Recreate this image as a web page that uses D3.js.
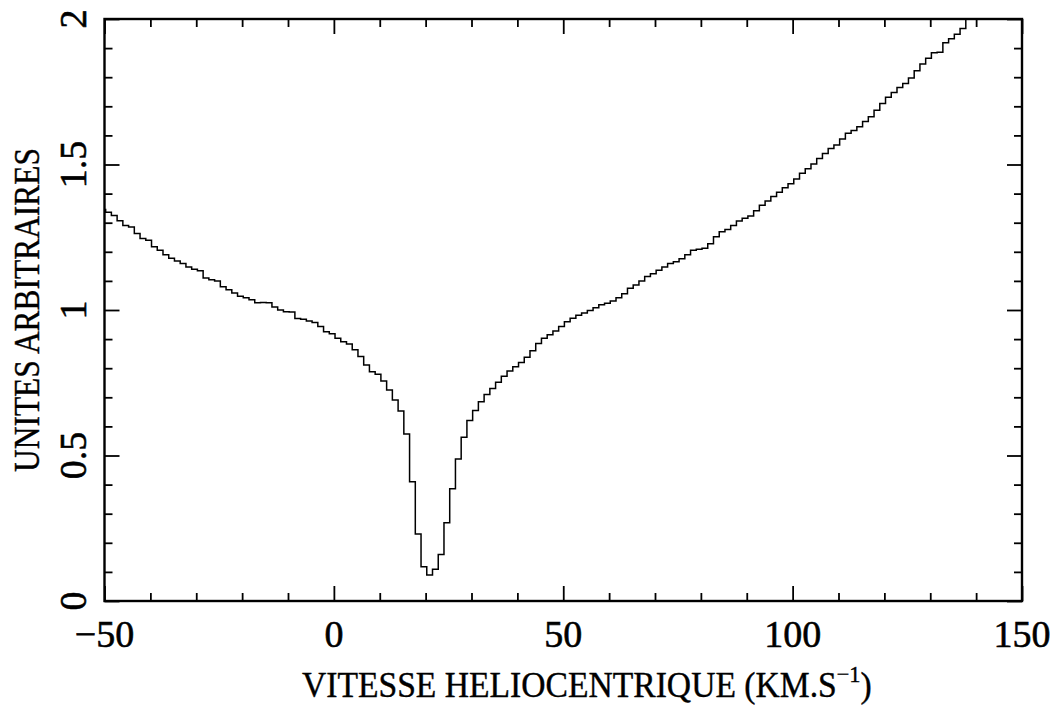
<!DOCTYPE html>
<html>
<head>
<meta charset="utf-8">
<script src="https://cdn.jsdelivr.net/npm/d3@7"></script>
<style>
  html, body { margin: 0; padding: 0; background: #fff; }
  svg { display: block; }
</style>
</head>
<body>
<svg id="chart" width="1051" height="705"></svg>
<script>
// ---- data ----
const binEdges = [-51, -49.75, -48.5, -47.25, -46, -44.75, -43.5, -42.25, -41, -39.75, -38.5, -37.25, -36, -34.75, -33.5, -32.25, -31, -29.75, -28.5, -27.25, -26, -24.75, -23.5, -22.25, -21, -19.75, -18.5, -17.25, -16, -14.75, -13.5, -12.25, -11, -9.75, -8.5, -7.25, -6, -4.75, -3.5, -2.25, -1, 0.25, 1.5, 2.75, 4, 5.25, 6.5, 7.75, 9, 10.25, 11.5, 12.75, 14, 15.25, 16.5, 17.75, 19, 20.25, 21.5, 22.75, 24, 25.25, 26.5, 27.75, 29, 30.25, 31.5, 32.75, 34, 35.25, 36.5, 37.75, 39, 40.25, 41.5, 42.75, 44, 45.25, 46.5, 47.75, 49, 50.25, 51.5, 52.75, 54, 55.25, 56.5, 57.75, 59, 60.25, 61.5, 62.75, 64, 65.25, 66.5, 67.75, 69, 70.25, 71.5, 72.75, 74, 75.25, 76.5, 77.75, 79, 80.25, 81.5, 82.75, 84, 85.25, 86.5, 87.75, 89, 90.25, 91.5, 92.75, 94, 95.25, 96.5, 97.75, 99, 100.25, 101.5, 102.75, 104, 105.25, 106.5, 107.75, 109, 110.25, 111.5, 112.75, 114, 115.25, 116.5, 117.75, 119, 120.25, 121.5, 122.75, 124, 125.25, 126.5, 127.75, 129, 130.25, 131.5, 132.75, 134, 135.25, 136.5, 137.75, 139];

const intensity = [
  1.345, 1.336, 1.325, 1.307, 1.290, 1.285, 1.263, 1.246, 1.240, 1.217,
  1.205, 1.190, 1.178, 1.168, 1.160, 1.148, 1.140, 1.135, 1.110, 1.104,
  1.100, 1.080, 1.070, 1.058, 1.047, 1.042, 1.035, 1.025, 1.026, 1.025,
  1.010, 1.000, 0.994, 0.993, 0.971, 0.968, 0.962, 0.957, 0.943, 0.925,
  0.918, 0.903, 0.891, 0.883, 0.863, 0.840, 0.811, 0.788, 0.779, 0.756,
  0.725, 0.691, 0.653, 0.574, 0.410, 0.230, 0.118, 0.089, 0.109, 0.160,
  0.269, 0.386, 0.488, 0.563, 0.620, 0.655, 0.685, 0.710, 0.730, 0.752,
  0.772, 0.790, 0.805, 0.820, 0.838, 0.860, 0.885, 0.903, 0.915, 0.928,
  0.943, 0.960, 0.972, 0.982, 0.990, 0.998, 1.008, 1.018, 1.023, 1.031,
  1.042, 1.056, 1.075, 1.086, 1.100, 1.115, 1.125, 1.137, 1.148, 1.160,
  1.166, 1.176, 1.190, 1.205, 1.209, 1.212, 1.228, 1.252, 1.269, 1.277,
  1.290, 1.306, 1.315, 1.323, 1.341, 1.360, 1.375, 1.390, 1.405, 1.420,
  1.434, 1.450, 1.470, 1.485, 1.502, 1.521, 1.538, 1.555, 1.567, 1.588,
  1.607, 1.617, 1.630, 1.648, 1.664, 1.686, 1.710, 1.731, 1.747, 1.765,
  1.778, 1.797, 1.822, 1.845, 1.865, 1.884, 1.886, 1.918, 1.932, 1.948,
  1.967, 2.020
];

const xMajorTicks = [-50, 0, 50, 100, 150];
const xTickLabels = ["\u221250", "0", "50", "100", "150"];
const xMinorTicks = [-40, -30, -20, -10, 10, 20, 30, 40, 60, 70, 80, 90, 110, 120, 130, 140];
const yMajorTicks = [0, 0.5, 1, 1.5, 2];
const yTickLabels = ["0", "0.5", "1", "1.5", "2"];
const yMinorTicks = [0.1, 0.2, 0.3, 0.4, 0.6, 0.7, 0.8, 0.9, 1.1, 1.2, 1.3, 1.4, 1.6, 1.7, 1.8, 1.9];

const xTitle = "VITESSE HELIOCENTRIQUE (KM.S";
const xTitleSup = "\u22121";
const yTitle = "UNITES ARBITRAIRES";

// ---- layout ----
const L = 104.5, R = 1022, T = 19, B = 601;
const FONT = "'Liberation Serif', 'DejaVu Serif', serif";
const svg = d3.select("#chart");

const x = d3.scaleLinear().domain([-50, 150]).range([L, R]);
const y = d3.scaleLinear().domain([0, 2]).range([B, T]);

// clip
svg.append("defs").append("clipPath").attr("id", "plotclip")
  .append("rect").attr("x", L).attr("y", T).attr("width", R - L).attr("height", B - T);

// step line
const pts = intensity.map((v, i) => [binEdges[i], v]);
pts.push([binEdges[intensity.length], intensity[intensity.length - 1]]);
const line = d3.line().x(d => x(d[0])).y(d => y(d[1])).curve(d3.curveStepAfter);
svg.append("path")
  .attr("clip-path", "url(#plotclip)")
  .attr("d", line(pts))
  .attr("fill", "none")
  .attr("stroke", "#000")
  .attr("stroke-width", 1.5);

// axes with inward ticks on all four sides
function addAxis(gen, transform, values, size) {
  svg.append("g").attr("transform", transform)
    .call(gen.tickValues(values).tickSize(size).tickFormat(""))
    .call(g => g.select(".domain").remove())
    .selectAll("line").attr("stroke", "#000").attr("stroke-width", 1.8);
}
const MAJ = 15, MIN = 8;
addAxis(d3.axisBottom(x), `translate(0,${B})`, xMajorTicks, -MAJ);
addAxis(d3.axisBottom(x), `translate(0,${B})`, xMinorTicks, -MIN);
addAxis(d3.axisTop(x), `translate(0,${T})`, xMajorTicks, -MAJ);
addAxis(d3.axisTop(x), `translate(0,${T})`, xMinorTicks, -MIN);
addAxis(d3.axisLeft(y), `translate(${L},0)`, yMajorTicks, -MAJ);
addAxis(d3.axisLeft(y), `translate(${L},0)`, yMinorTicks, -MIN);
addAxis(d3.axisRight(y), `translate(${R},0)`, yMajorTicks, -MAJ);
addAxis(d3.axisRight(y), `translate(${R},0)`, yMinorTicks, -MIN);

// frame
svg.append("rect").attr("x", L).attr("y", T).attr("width", R - L).attr("height", B - T)
  .attr("fill", "none").attr("stroke", "#000").attr("stroke-width", 2.4);

// x tick labels
svg.append("g").selectAll("text").data(xMajorTicks).join("text")
  .attr("x", d => x(d)).attr("y", 647)
  .attr("text-anchor", "middle")
  .attr("font-family", FONT).attr("font-size", 38)
  .attr("fill", "#000").attr("stroke", "#000").attr("stroke-width", 0.6)
  .text((d, i) => xTickLabels[i]);

// y tick labels (rotated)
svg.append("g").selectAll("text").data(yMajorTicks).join("text")
  .attr("transform", d => `translate(86,${y(d)}) rotate(-90)`)
  .attr("text-anchor", "middle")
  .attr("font-family", FONT).attr("font-size", 38)
  .attr("fill", "#000").attr("stroke", "#000").attr("stroke-width", 0.6)
  .text((d, i) => yTickLabels[i]);

// x title
const xt = svg.append("g");
const xtText = xt.append("text")
  .attr("font-family", FONT).attr("font-size", 36)
  .attr("fill", "#000").attr("stroke", "#000").attr("stroke-width", 0.4);
xtText.append("tspan").text(xTitle);
xtText.append("tspan").attr("font-size", 24).attr("dy", -15).text(xTitleSup);
xtText.append("tspan").attr("dy", 15).text(")");
const xw = xtText.node().getBBox().width;
xt.attr("transform", `translate(302,697) scale(${570 / xw},1)`);

// y title
const yt = svg.append("g");
const ytText = yt.append("text")
  .attr("font-family", FONT).attr("font-size", 36)
  .attr("fill", "#000").attr("stroke", "#000").attr("stroke-width", 0.4)
  .attr("text-anchor", "middle")
  .text(yTitle);
const yw = ytText.node().getBBox().width;
yt.attr("transform", `translate(39,${(T + B) / 2}) rotate(-90) scale(${324 / yw},1)`);
</script>
</body>
</html>
